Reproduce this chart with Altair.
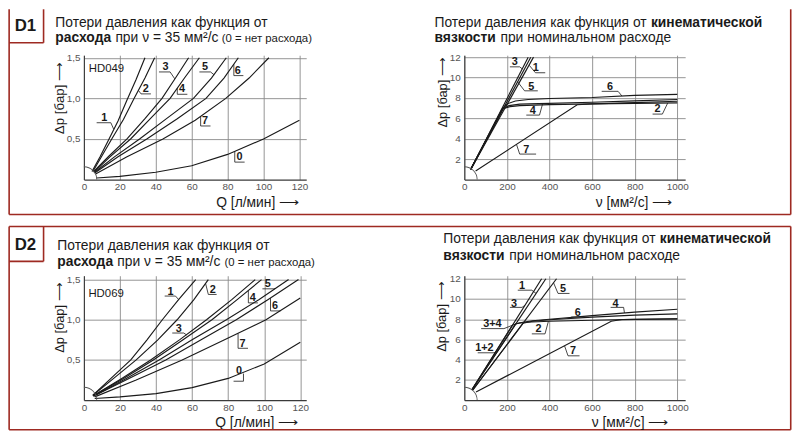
import altair as alt
import pandas as pd

FONT = "Liberation Sans"
SX, SY, FS = 0.985, 0.958, 0.99
FRAME = "#9e2a22"
INK = "#1a1a1a"
GRID = "#8a8a8a"

# ---------------- data ----------------
Q_TICKS = [0, 20, 40, 60, 80, 100, 120]
DPQ_TICKS = [0.5, 1.0, 1.5]
NU_TICKS = [0, 200, 400, 600, 800, 1000]
DPNU_TICKS = [2, 4, 6, 8, 10, 12]

# D1 (HD049): Δp [бар] vs Q [л/мин]
D1_Q_CURVES = {
    "1": [(4.5, 0.10), (9, 0.28), (14, 0.50), (19, 0.72), (24, 0.98), (29, 1.23), (34, 1.5)],
    "2": [(5, 0.10), (10, 0.29), (15.5, 0.50), (22, 0.74), (28, 1.0), (34, 1.25), (39.4, 1.5)],
    "3": [(5.5, 0.10), (14, 0.29), (24, 0.50), (34, 0.75), (43.5, 1.0), (51, 1.25), (58.3, 1.5)],
    "4": [(5.5, 0.09), (14.5, 0.28), (26, 0.50), (37, 0.75), (48, 1.0), (56, 1.25), (64.3, 1.5)],
    "5": [(6, 0.09), (17, 0.28), (31, 0.50), (46, 0.75), (61, 1.0), (71, 1.25), (79.3, 1.5)],
    "6": [(6, 0.08), (19, 0.28), (35, 0.50), (52, 0.75), (68, 1.0), (78, 1.25), (86, 1.5)],
    "7": [(6.5, 0.07), (24, 0.28), (44, 0.50), (62, 0.73), (79, 1.0), (92, 1.25), (103, 1.5)],
    "0": [(7, 0.02), (20, 0.04), (40, 0.09), (60, 0.17), (80, 0.31), (100, 0.50), (120, 0.73)],
}
D1_Q_LABELS = [
    ("1", 11.3, 0.76, [(7.1, 0.70), (15.0, 0.70), (16.6, 0.62)]),
    ("2", 34.5, 1.11, [(37.3, 1.055), (31.8, 1.055), (30.3, 1.10)]),
    ("3", 45.5, 1.38, [(41.8, 1.325), (48.0, 1.325), (50.6, 1.24)]),
    ("4", 54.6, 1.11, [(57.6, 1.05), (52.0, 1.05), (52.0, 1.125)]),
    ("5", 67.4, 1.38, [(64.3, 1.325), (70.5, 1.325), (72.5, 1.29)]),
    ("6", 85.7, 1.34, [(88.8, 1.28), (83.5, 1.28), (83.5, 1.42)]),
    ("7", 67.4, 0.72, [(70.5, 0.66), (65.0, 0.66), (65.0, 0.775)]),
    ("0", 86.6, 0.28, [(89.5, 0.215), (84.0, 0.215), (84.0, 0.35)]),
]
D1_Q_NAME = ("HD049", 2.7, 1.36)

# D1: Δp [бар] vs ν [мм²/с]
D1_NU_CURVES = {
    "3": [(30, 1.0), (300, 12)],
    "5": [(30, 1.0), (312, 12)],
    "1": [(30, 1.0), (325, 12)],
    "6": [(30, 1.0), (180, 7.0), (205, 7.45), (240, 7.7), (300, 7.85), (400, 7.95), (600, 8.05), (800, 8.25), (1000, 8.35)],
    "4": [(30, 1.0), (180, 6.95), (210, 7.25), (260, 7.4), (350, 7.45), (600, 7.58), (800, 7.72), (1000, 7.85)],
    "2": [(30, 1.0), (182, 6.95), (215, 7.15), (260, 7.25), (400, 7.35), (600, 7.42), (800, 7.47), (1000, 7.52)],
    "7": [(53, 0.84), (530, 7.34), (600, 7.42), (800, 7.55), (1000, 7.68)],
}
D1_NU_LABELS = [
    ("3", 237, 11.5, [(214, 11.05), (260, 11.05), (272, 10.85)]),
    ("1", 336, 10.9, [(380, 10.47), (334, 10.47), (305, 11.2)]),
    ("5", 314, 9.1, [(345, 8.7), (283, 8.7), (250, 9.6)]),
    ("6", 684, 9.1, [(645, 8.65), (722, 8.65), (740, 8.19)]),
    ("4", 322, 6.72, [(291, 6.32), (353, 6.32), (368, 7.45)]),
    ("2", 907, 6.87, [(884, 6.42), (930, 6.42), (955, 7.5)]),
    ("7", 291, 2.9, [(337, 2.5), (260, 2.5), (245, 3.45)]),
]

# D2 (HD069): Δp [бар] vs Q [л/мин]
D2_Q_CURVES = {
    "1": [(5, 0.06), (15, 0.27), (26, 0.50), (35, 0.75), (43.5, 1.0), (52.5, 1.25), (62, 1.5)],
    "2": [(5, 0.06), (16.5, 0.27), (29, 0.50), (41, 0.75), (51.7, 1.0), (61, 1.25), (69, 1.5)],
    "3": [(5, 0.05), (21, 0.27), (37, 0.50), (53, 0.75), (68, 1.0), (82, 1.25), (95, 1.5)],
    "4": [(5, 0.05), (22, 0.27), (38.5, 0.50), (55, 0.75), (71, 1.0), (85, 1.25), (98.5, 1.5)],
    "5": [(5.5, 0.05), (23.5, 0.27), (41.7, 0.50), (60, 0.75), (79, 1.0), (97, 1.25), (113.5, 1.5)],
    "6": [(5.5, 0.05), (25, 0.27), (45.4, 0.50), (65, 0.75), (84.5, 1.0), (102, 1.25), (119, 1.5)],
    "7": [(6, 0.04), (29, 0.25), (54.5, 0.50), (78, 0.75), (101, 1.0), (120, 1.27)],
    "0": [(6, 0.02), (20, 0.04), (40, 0.08), (60, 0.155), (80, 0.27), (100, 0.45), (120, 0.72)],
}
D2_Q_LABELS = [
    ("1", 48.1, 1.35, [(44.8, 1.295), (50.8, 1.295), (52.6, 1.25)]),
    ("2", 71.4, 1.37, [(73.6, 1.315), (69.0, 1.315), (67.5, 1.45)]),
    ("3", 52.6, 0.89, [(49.0, 0.835), (55.4, 0.835), (57.0, 0.81)]),
    ("4", 93.6, 1.27, [(96.5, 1.21), (91.2, 1.21), (91.2, 1.36)]),
    ("5", 102.0, 1.44, [(99.0, 1.385), (105.0, 1.385), (106.5, 1.39)]),
    ("6", 106.0, 1.17, [(109.0, 1.11), (103.5, 1.11), (103.5, 1.27)]),
    ("7", 88.0, 0.70, [(91.0, 0.645), (85.5, 0.645), (85.5, 0.83)]),
    ("0", 86.0, 0.36, [(83.0, 0.235), (88.5, 0.235), (88.5, 0.33)]),
]
D2_Q_NAME = ("HD069", 2.5, 1.32)

# D2: Δp [бар] vs ν [мм²/с]
D2_NU_CURVES = {
    "3": [(35, 1.0), (363, 12)],
    "1": [(35, 1.0), (383, 12)],
    "5": [(40, 1.0), (433, 12)],
    "4": [(35, 1.0), (226, 7.4), (260, 7.65), (320, 7.85), (400, 8.0), (600, 8.35), (800, 8.7), (1000, 8.98)],
    "2": [(35, 1.0), (242, 7.55), (290, 7.7), (400, 7.8), (600, 7.9), (800, 7.98), (1000, 8.03)],
    "6": [(40, 1.0), (276, 7.6), (320, 7.8), (400, 7.95), (600, 8.2), (800, 8.4), (1000, 8.53)],
    "7": [(55, 0.8), (690, 7.8), (740, 7.97), (850, 8.0), (1000, 8.03)],
}
D2_NU_LABELS = [
    ("1", 271, 11.3, [(251, 10.87), (317, 10.87), (337, 10.55)]),
    ("3", 233, 9.5, [(214, 9.17), (271, 9.17), (285, 9.38)]),
    ("5", 464, 11.0, [(494, 10.55), (440, 10.55), (419, 11.6)]),
    ("3+4", 132, 7.5, [(79, 7.07), (186, 7.07), (226, 7.4)]),
    ("1+2", 94, 5.13, [(63, 4.68), (140, 4.68), (160, 4.95)]),
    ("2", 348, 7.0, [(317, 6.55), (379, 6.55), (395, 7.8)]),
    ("6", 533, 8.62, [(502, 8.22), (564, 8.22), (585, 8.18)]),
    ("4", 710, 9.54, [(687, 9.17), (748, 9.17), (752, 8.62)]),
    ("7", 510, 4.82, [(541, 4.38), (487, 4.38), (471, 5.35)]),
]

# ---------------- layout (reference pixels) ----------------
A0 = (77.0, 48.0)
B0 = (463.3, 48.0)
C0 = (77.0, 278.0)
D0 = (463.3, 278.0)
W_L, W_R, H = 226.0, 224.5, 130.0

ONE = pd.DataFrame({"o": [0]})


def rel(p0, x, y):
    return (x - p0[0]) * SX, (y - p0[1]) * SY


def T(p0, s, x, y, size, bold=False, align="left", baseline="alphabetic"):
    px, py = rel(p0, x, y)
    return alt.Chart(ONE).mark_text(
        text=s, font=FONT, fontSize=size * FS, fontWeight="bold" if bold else "normal",
        align=align, baseline=baseline, color=INK,
    ).encode(x=alt.value(px), y=alt.value(py))


def R(p0, x1, y1, x2, y2):
    a = rel(p0, x1, y1)
    b = rel(p0, x2, y2)
    return alt.Chart(ONE).mark_rule(color=FRAME, strokeWidth=1.6).encode(
        x=alt.value(a[0]), y=alt.value(a[1]), x2=alt.value(b[0]), y2=alt.value(b[1])
    )


def curves_df(cd):
    rows = []
    for name, pts in cd.items():
        for k, (x, y) in enumerate(pts):
            rows.append({"curve": name, "k": k, "x": x, "y": y})
    return pd.DataFrame(rows)


def labels_df(ld):
    return pd.DataFrame([{"t": t, "x": x, "y": y} for t, x, y, _ in ld])


def leaders_df(ld):
    rows = []
    for i, (t, x, y, pts) in enumerate(ld):
        for k, (px, py) in enumerate(pts):
            rows.append({"id": str(i), "k": k, "x": px, "y": py})
    return pd.DataFrame(rows)


def panel(w, curves, labels, xdom, ydom, xticks, yticks, comma, xtitle, xt, ytitle, yt, ysize, name, extra):
    common = dict(
        grid=True, gridColor=GRID, gridWidth=0.9, ticks=False,
        domainColor="#3a3a3a", domainWidth=1.1,
        labelFont=FONT, labelFontSize=10 * FS, labelColor="#555555", labelOverlap=False,
        titleFont=FONT, titleFontWeight="normal", titleColor=INK,
    )
    xaxis = alt.Axis(
        values=xticks, format="d", labelPadding=2, labelFlush=False, title=xtitle,
        titleFontSize=14 * FS, titleAlign="left", titleBaseline="alphabetic",
        titleX=xt[0] * SX, titleY=xt[1] * SY, **common,
    )
    ykw = dict(
        values=yticks, labelPadding=4, title=ytitle, titleFontSize=ysize * FS,
        titleAngle=270, titleAlign="left", titleBaseline="middle",
        titleX=yt[0] * SX, titleY=yt[1] * SY, **common,
    )
    if comma:
        ykw["labelExpr"] = "replace(format(datum.value, '.1f'), '.', ',')"
    else:
        ykw["format"] = "d"
    X = alt.X("x:Q", scale=alt.Scale(domain=xdom, nice=False, zero=False), axis=xaxis)
    Y = alt.Y("y:Q", scale=alt.Scale(domain=ydom, nice=False, zero=False), axis=alt.Axis(**ykw))

    lines = alt.Chart(curves_df(curves)).mark_line(color=INK, strokeWidth=1.15).encode(
        x=X, y=Y, detail="curve:N", order="k:Q")
    leaders = alt.Chart(leaders_df(labels)).mark_line(color=INK, strokeWidth=0.8).encode(
        x=X, y=Y, detail="id:N", order="k:Q")
    nums = alt.Chart(labels_df(labels)).mark_text(
        font=FONT, fontSize=11 * FS, fontWeight="bold", color=INK, align="center", baseline="middle"
    ).encode(x=X, y=Y, text="t:N")
    arc = alt.Chart(pd.DataFrame({"x": [0.0], "y": [0.0]})).mark_arc(
        radius=13.5 * SX, radius2=12.6 * SX, theta=0, theta2=1.5708, color="#555555"
    ).encode(x=X, y=Y)
    layers = [lines, leaders, nums, arc]
    if name is not None:
        layers.append(
            alt.Chart(pd.DataFrame({"t": [name[0]], "x": [name[1]], "y": [name[2]]})).mark_text(
                font=FONT, fontSize=11.5 * FS, color=INK, align="left", baseline="middle"
            ).encode(x=X, y=Y, text="t:N")
        )
    layers += extra
    return alt.layer(*layers).properties(width=w * SX, height=H * SY)


# decorations
decoA = [
    R(A0, 1, 0, 1, 214.5), R(A0, 1, 214.5, 795.5, 214.5), R(A0, 795.5, 0, 795.5, 214.5),
    R(A0, 36, 0, 36, 35), R(A0, 1, 35, 36, 35),
    T(A0, "D1", 17.5, 18, 17, bold=True, align="center", baseline="middle"),
    T(A0, "Потери давления как функция от", 48, 18.5, 14),
    T(A0, "расхода", 48, 34.5, 14, bold=True),
    T(A0, "при ν = 35 мм²/с", 109, 34.5, 14),
    T(A0, "(0 = нет расхода)", 217, 34.5, 11.5),
]
decoB = [
    T(B0, "Потери давления как функция от", 433, 18.5, 14),
    T(B0, "кинематической", 653, 18.5, 14, bold=True),
    T(B0, "вязкости", 433, 34.5, 14, bold=True),
    T(B0, "при номинальном расходе", 500, 34.5, 14),
]
decoC = [
    R(C0, 1, 226.5, 795.5, 226.5), R(C0, 1, 226.5, 1, 439), R(C0, 1, 439, 795.5, 439),
    R(C0, 795.5, 226.5, 795.5, 439),
    R(C0, 36, 226.5, 36, 263), R(C0, 1, 263, 36, 263),
    T(C0, "D2", 17.5, 246, 17, bold=True, align="center", baseline="middle"),
    T(C0, "Потери давления как функция от", 50, 251.5, 14),
    T(C0, "расхода", 50, 267.5, 14, bold=True),
    T(C0, "при ν = 35 мм²/с", 111, 267.5, 14),
    T(C0, "(0 = нет расхода)", 220, 267.5, 11.5),
]
decoD = [
    T(D0, "Потери давления как функция от", 442, 244, 14),
    T(D0, "кинематической", 662, 244, 14, bold=True),
    T(D0, "вязкости", 442, 261.7, 14, bold=True),
    T(D0, "при номинальном расходе", 509, 261.7, 14),
]

XQ = "Q [л/мин] ⟶"
XNU = "ν [мм²/с] ⟶"
YT = "Δp [бар] ⟶"

pA = panel(W_L, D1_Q_CURVES, D1_Q_LABELS, [0, 123.8], [0, 1.531], Q_TICKS, DPQ_TICKS, True,
           XQ, (134, 28), YT, (-25, 82), 13.5, D1_Q_NAME, decoA)
pB = panel(W_R, D1_NU_CURVES, D1_NU_LABELS, [0, 1037], [0, 12.19], NU_TICKS, DPNU_TICKS, False,
           XNU, (133, 28), YT, (-22.3, 75), 13, None, decoB)
pC = panel(W_L, D2_Q_CURVES, D2_Q_LABELS, [0, 123.3], [0, 1.548], Q_TICKS, DPQ_TICKS, True,
           XQ, (133, 28), YT, (-25, 80), 13, D2_Q_NAME, decoC)
pD = panel(W_R, D2_NU_CURVES, D2_NU_LABELS, [0, 1037], [0, 12.3], NU_TICKS, DPNU_TICKS, False,
           XNU, (129, 28), YT, (-23.3, 79), 13, None, decoD)

chart = alt.concat(
    pA, pB, pC, pD, columns=2,
    spacing={"row": 100 * SY, "column": (463.3 - 303.0) * SX},
    bounds="flush",
).properties(padding=0, background="white").configure_view(stroke=None)

chart.save("out.html", embed_options={"renderer": "svg", "actions": False})
